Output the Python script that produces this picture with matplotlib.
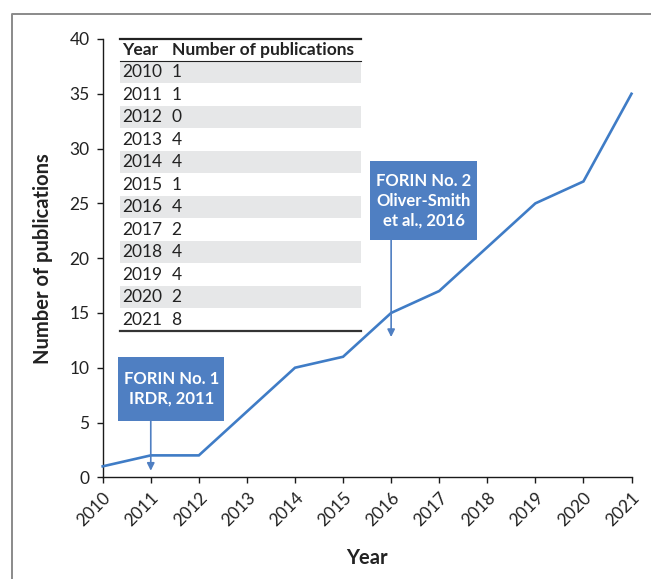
import numpy as np
import matplotlib
matplotlib.use("Agg")
import matplotlib.pyplot as plt
from matplotlib.patches import Rectangle
from matplotlib.lines import Line2D
from matplotlib.transforms import Affine2D

# Yearly publication counts
years = [2010, 2011, 2012, 2013, 2014, 2015, 2016, 2017, 2018, 2019, 2020, 2021]
counts = [1, 1, 0, 4, 4, 1, 4, 2, 4, 4, 2, 8]
cumulative = np.cumsum(counts)

y_ticks = [0, 5, 10, 15, 20, 25, 30, 35, 40]
table_header = ["Year", "Number of publications"]

note1_text = "FORIN No. 1\nIRDR, 2011"
note1_year = 2011
note2_text = "FORIN No. 2\nOliver-Smith\net al., 2016"
note2_year = 2016

W, H = 651, 579
FONT = "Lato"
LINE_BLUE = "#3f7cc6"
BOX_BLUE = "#4f7fc2"
TXT = "#222222"

plt.rcParams["font.family"] = [FONT, "DejaVu Sans"]

fig = plt.figure(figsize=(W / 100, H / 100), dpi=100)
px = Affine2D().scale(1 / W, -1 / H).translate(0, 1) + fig.transFigure

# outer frame (left and top edges)
fig.add_artist(Line2D([11.7, 11.7, W + 5], [H + 5, 14, 14], transform=px,
                      color="#8a8a8a", lw=1.4))

x0, x1 = 102.7, 631.5
y0, y1 = 477.3, 39.0
ax = fig.add_axes([x0 / W, 1 - y0 / H, (x1 - x0) / W, (y0 - y1) / H])
ax.set_xlim(years[0], years[-1])
ax.set_ylim(y_ticks[0], y_ticks[-1])
ax.patch.set_alpha(0)

for s in ("top", "right"):
    ax.spines[s].set_visible(False)
for s in ("left", "bottom"):
    ax.spines[s].set_color("#1a1a1a")
    ax.spines[s].set_linewidth(1.0)

ax.set_xticks(years)
ax.set_xticklabels([str(y) for y in years], rotation=45, ha="right",
                   va="top", rotation_mode="anchor")
ax.set_yticks(y_ticks)
ax.tick_params(direction="out", length=4.5, width=1.0, color="#1a1a1a",
               labelsize=12.5, labelcolor=TXT)
ax.tick_params(axis="y", pad=5)
ax.tick_params(axis="x", pad=4)

ax.plot(years, cumulative, color=LINE_BLUE, lw=1.9, solid_joinstyle="miter",
        clip_on=False, zorder=3)

ax.set_ylabel("Number of publications", fontsize=14.5, fontweight="bold",
              color=TXT, labelpad=12)
ax.set_xlabel("Year", fontsize=14.5, fontweight="bold", color=TXT, labelpad=14)

# callout boxes with arrows
def callout(text, year, bx0, bx1, by0, by1, tip):
    ax.add_patch(Rectangle((bx0, by0), bx1 - bx0, by1 - by0, facecolor=BOX_BLUE,
                           edgecolor="none", zorder=4, clip_on=False))
    ax.text((bx0 + bx1) / 2, (by0 + by1) / 2, text, ha="center", va="center",
            color="white", fontsize=12, fontweight="bold", linespacing=1.3,
            zorder=5)
    ax.annotate("", xy=(year, tip), xytext=(year, by0),
                arrowprops=dict(arrowstyle="-|>", color=BOX_BLUE, lw=1.2,
                                mutation_scale=11, shrinkA=0, shrinkB=0),
                zorder=4)

callout(note1_text, note1_year, 2010.32, 2012.53, 5.14, 10.98, 0.6)
callout(note2_text, note2_year, 2015.56, 2017.79, 21.65, 28.86, 12.8)

# summary table
tl, tr = 120.0, 361.0
t_top, t_head = 38.5, 60.5
row_h = 22.5
col1, col2 = 122.5, 171.5
TFS = 12.5

for i, (yr, c) in enumerate(zip(years, counts)):
    top = t_head + i * row_h
    if i % 2 == 0:
        fig.add_artist(Rectangle((tl, top), tr - tl, row_h, transform=px,
                                 facecolor="#e6e7e8", edgecolor="none"))
    cy = top + row_h / 2 + 0.5
    fig.text(col1, cy, str(yr), transform=px, ha="left", va="center",
             fontsize=TFS, color=TXT)
    fig.text(col2, cy, str(c), transform=px, ha="left", va="center",
             fontsize=TFS, color=TXT)

t_bot = t_head + len(years) * row_h
hy = (t_top + t_head) / 2 + 0.5
fig.text(col1, hy, table_header[0], transform=px, ha="left", va="center",
         fontsize=TFS, fontweight="bold", color=TXT)
fig.text(col2, hy, table_header[1], transform=px, ha="left", va="center",
         fontsize=TFS, fontweight="bold", color=TXT)
fig.add_artist(Line2D([tl, tr], [t_top, t_top], transform=px, color="#222222", lw=1.6))
fig.add_artist(Line2D([tl, tr], [t_head, t_head], transform=px, color="#222222", lw=0.8))
fig.add_artist(Line2D([tl, tr], [t_bot, t_bot], transform=px, color="#333333", lw=1.6))

fig.savefig("out.png", dpi=100)
